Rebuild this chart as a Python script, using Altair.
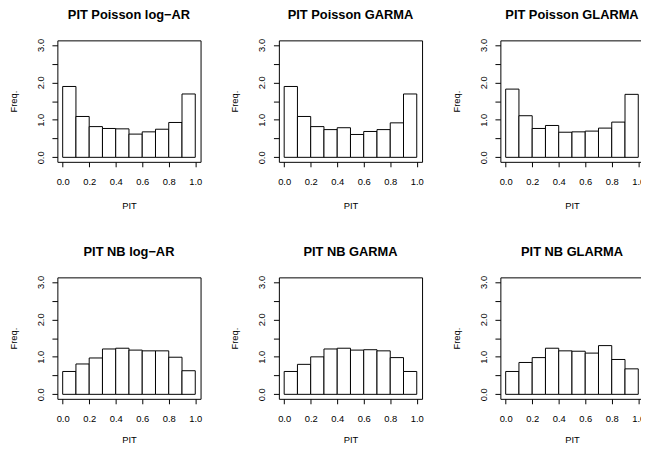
import altair as alt
import pandas as pd

bin_start = [0.0, 0.1, 0.2, 0.3, 0.4, 0.5, 0.6, 0.7, 0.8, 0.9]
bin_end = [0.1, 0.2, 0.3, 0.4, 0.5, 0.6, 0.7, 0.8, 0.9, 1.0]

titles = [
    "PIT Poisson log\u2212AR", "PIT Poisson GARMA", "PIT Poisson GLARMA",
    "PIT NB log\u2212AR", "PIT NB GARMA", "PIT NB GLARMA",
]
pois_logar = [1.89, 1.09, 0.82, 0.77, 0.76, 0.62, 0.68, 0.75, 0.93, 1.69]
pois_garma = [1.89, 1.09, 0.82, 0.74, 0.79, 0.61, 0.69, 0.74, 0.92, 1.69]
pois_glarma = [1.82, 1.11, 0.77, 0.85, 0.67, 0.68, 0.70, 0.78, 0.94, 1.68]
nb_logar = [0.61, 0.81, 0.97, 1.21, 1.23, 1.18, 1.16, 1.16, 0.99, 0.63]
nb_garma = [0.61, 0.80, 1.00, 1.21, 1.23, 1.18, 1.19, 1.16, 0.98, 0.61]
nb_glarma = [0.61, 0.85, 0.98, 1.23, 1.16, 1.15, 1.10, 1.30, 0.93, 0.68]

x_ticks = [0.0, 0.2, 0.4, 0.6, 0.8, 1.0]
y_ticks = [0.0, 0.5, 1.0, 1.5, 2.0, 2.5, 3.0]

FONT = "Liberation Sans"
AX = 9.5


def panel(title, vals, pit_pad):
    df = pd.DataFrame({"lo": bin_start, "hi": bin_end, "freq": vals,
                       "base": [0.0] * len(vals)})
    return alt.Chart(
        df,
        title=alt.Title(title, fontSize=13, fontWeight="bold", font=FONT,
                        color="black", anchor="middle", frame="group", offset=17),
    ).mark_rect(fill="white", stroke="black", strokeWidth=1).encode(
        x=alt.X("lo:Q",
                scale=alt.Scale(domain=[-0.04, 1.04], nice=False, zero=False),
                axis=alt.Axis(values=x_ticks, format=".1f", title="PIT",
                              grid=False, domain=False, tickSize=5,
                              tickColor="black", labelColor="black",
                              titleColor="black", labelFont=FONT,
                              titleFont=FONT, labelFontSize=AX,
                              titleFontSize=AX, titleFontWeight="normal",
                              labelPadding=10, titlePadding=pit_pad,
                              labelFlush=False, labelOverlap=False)),
        x2="hi:Q",
        y=alt.Y("freq:Q",
                scale=alt.Scale(domain=[-0.12, 3.12], nice=False, zero=False),
                axis=alt.Axis(values=y_ticks, title="Freq.",
                              labelExpr="datum.value % 1 == 0 ? format(datum.value, '.1f') : ''",
                              grid=False, domain=False, tickSize=5.5,
                              tickColor="black", labelColor="black",
                              titleColor="black", labelFont=FONT,
                              titleFont=FONT, labelFontSize=AX,
                              titleFontSize=AX, titleFontWeight="normal",
                              labelAngle=-90, labelPadding=7, titlePadding=17,
                              labelFlush=False, labelOverlap=False)),
        y2="base:Q",
    ).properties(width=145, height=123)


panels = [
    panel(titles[0], pois_logar, 15), panel(titles[1], pois_garma, 15),
    panel(titles[2], pois_glarma, 15),
    panel(titles[3], nb_logar, 12), panel(titles[4], nb_garma, 12),
    panel(titles[5], nb_glarma, 12),
]

chart = alt.concat(
    *panels, columns=3, spacing={"row": 117, "column": 79.3}, bounds="flush"
).properties(
    autosize=alt.AutoSizeParams(type="none"),
    padding={"left": 50, "top": 30, "right": 591, "bottom": 410},
    background="white",
).configure_view(stroke="black", strokeWidth=1)

chart.save("out.html", embed_options={"renderer": "svg", "actions": False})
